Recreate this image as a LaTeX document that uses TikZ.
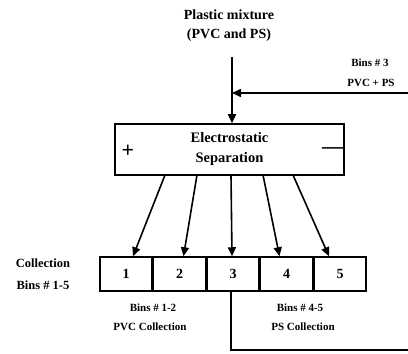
\documentclass[tikz,border=0pt]{standalone}
\usepackage{fontspec}
\setmainfont{Liberation Serif}
\usetikzlibrary{arrows.meta,positioning}

\begin{document}
\begin{tikzpicture}[
  x=1pt, y=1pt,
  every node/.style={inner sep=0pt, font=\bfseries},
  ttl/.style={font=\fontsize{14}{16}\selectfont\bfseries},
  lbl/.style={font=\fontsize{11}{13}\selectfont\bfseries},
  big/.style={font=\fontsize{12.5}{14}\selectfont\bfseries},
  sepbox/.style={draw, line width=1.5pt, minimum width=229pt, minimum height=51pt,
                 align=center, font=\fontsize{14.5}{20}\selectfont\bfseries},
  bin/.style={draw, line width=1.5pt, minimum width=52pt, minimum height=34pt,
              font=\fontsize{14}{16}\selectfont\bfseries},
  sgn/.style={font=\fontsize{22}{22}\selectfont\bfseries},
  arr/.style={-{Triangle[length=9pt,width=8pt]}, line width=1.6pt},
  pipe/.style={line width=1.5pt}
]
\useasboundingbox (0,0) rectangle (408,354);

% feed
\node[ttl] (mix) at (229,339) {Plastic mixture};
\node[ttl, below=8pt of mix] (mix2) {(PVC and PS)};
\coordinate (feed) at (232,297);

% separator
\node[sepbox] (sep) at (229.5,204.5) {Electrostatic\\Separation};
\node[sgn] (plus) at (128,203) {+};
\node[sgn] (minus) at (333,203) {—};

\draw[arr] (feed) -- (feed |- sep.north);

% bin 3 recycle
\coordinate (ret) at (408,261);
\coordinate (join) at (232,261);
\draw[arr] (ret) -- (join);
\node[lbl] (r1) at (370,291) {Bins \# 3};
\node[lbl] (r2) at (371,271) {PVC + PS};

% bins
\node[bin] (b1) at (126,80) {1};
\node[bin, right=0pt of b1] (b2) {2};
\node[bin, right=0pt of b2] (b3) {3};
\node[bin, right=0pt of b3] (b4) {4};
\node[bin, right=0pt of b4] (b5) {5};

\coordinate (s1) at (165,179);
\coordinate (s2) at (197,179);
\coordinate (s3) at (231,179);
\coordinate (s4) at (263,179);
\coordinate (s5) at (293,179);
\draw[arr] (s1) -- ([xshift=7pt]b1.north);
\draw[arr] (s2) -- ([xshift=4pt]b2.north);
\draw[arr] (s3) -- ([xshift=-1pt]b3.north);
\draw[arr] (s4) -- ([xshift=-7pt]b4.north);
\draw[arr] (s5) -- ([xshift=-11pt]b5.north);

\coordinate (out) at (408,4);
\draw[pipe] ([xshift=-2pt]b3.south) |- (out);

% labels
\node[big] (c1) at (43,91) {Collection};
\node[big] (c2) at (43,69) {Bins \# 1-5};
\node[lbl] (p1) at (153,46) {Bins \# 1-2};
\node[lbl] (p2) at (150,27) {PVC Collection};
\node[lbl] (q1) at (300,46) {Bins \# 4-5};
\node[lbl] (q2) at (303,27) {PS Collection};
\end{tikzpicture}
\end{document}
